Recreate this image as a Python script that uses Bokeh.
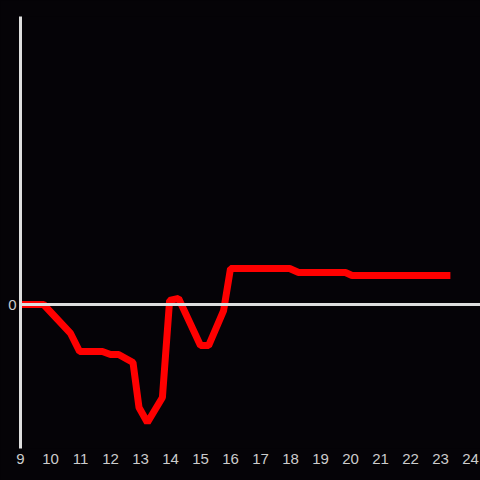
from bokeh.plotting import figure
from bokeh.models import FixedTicker, Span, Range1d
from bokeh.embed import file_html
from bokeh.resources import INLINE

# data
xs = [9.0, 9.77, 10.67, 10.97, 11.73, 12.0, 12.27, 12.75, 12.95, 13.23, 13.73,
      13.97, 14.27, 15.0, 15.27, 15.77, 16.0, 17.97, 18.27, 19.83, 20.05, 23.33]
ys = [0.0, 0.0, -0.201, -0.326, -0.326, -0.347, -0.347, -0.403, -0.715, -0.819, -0.646,
      0.028, 0.042, -0.285, -0.285, -0.042, 0.25, 0.25, 0.222, 0.222, 0.201, 0.201]
x_ticks = list(range(9, 25))
y_ticks = [0]

BG = "#050307"
AX = "#dedede"
LBL = "#cccccc"

p = figure(width=480, height=480, output_backend="svg", toolbar_location=None,
           x_range=Range1d(9, 24.333), y_range=Range1d(-1, 2),
           min_border_left=20, min_border_right=0, min_border_top=16, min_border_bottom=32)
p.styles = {"background-color": BG}
p.background_fill_color = BG
p.border_fill_color = BG
p.outline_line_color = None
p.grid.visible = False

p.add_layout(Span(location=0, dimension="width", line_color=AX, line_width=3))

p.line(xs, ys, line_color="#ff0000", line_width=7)

p.xaxis.ticker = FixedTicker(ticks=x_ticks)
p.yaxis.ticker = FixedTicker(ticks=y_ticks)
for ax in (p.xaxis[0], p.yaxis[0]):
    ax.major_tick_line_color = None
    ax.minor_tick_line_color = None
    ax.major_tick_out = 0
    ax.major_tick_in = 0
    ax.minor_tick_out = 0
    ax.major_label_text_color = LBL
    ax.major_label_text_font = "Liberation Sans"
    ax.major_label_text_font_size = "15px"
    ax.major_label_standoff = 4
p.xaxis.axis_line_color = None
p.xaxis.major_label_standoff = 5
p.yaxis.axis_line_color = AX
p.yaxis.axis_line_width = 3

open("out.html", "w").write(file_html(p, INLINE))
